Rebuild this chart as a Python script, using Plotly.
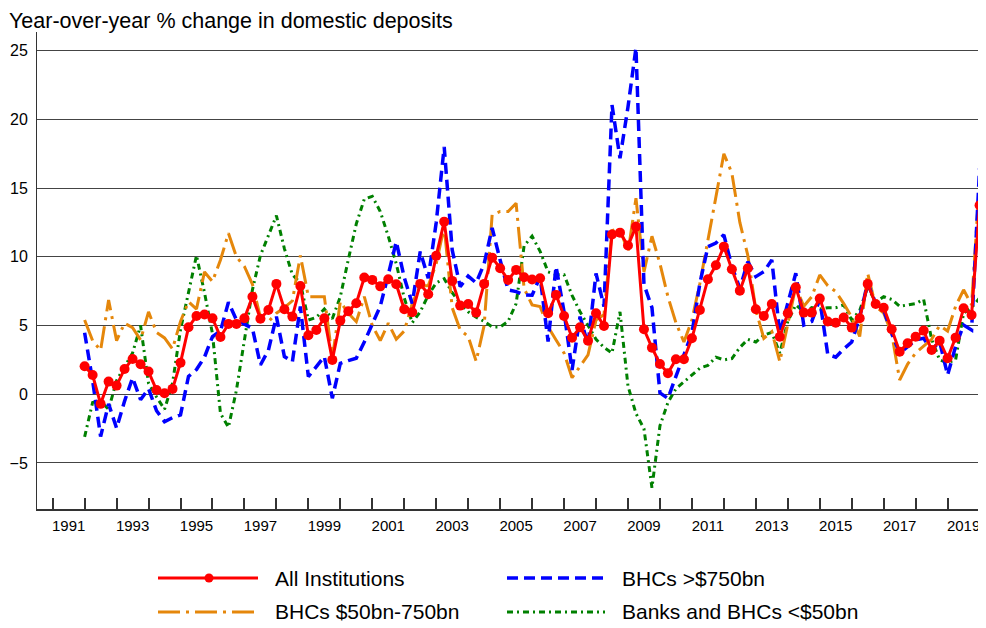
import plotly.graph_objects as go

# ---------------- data ----------------
start_year, start_q = 1991, 4          # first observation: 1991Q4
n_obs = 113
quarters = []
y, q = start_year, start_q
for _ in range(n_obs):
    quarters.append(f"{y}Q{q}")
    q += 1
    if q > 4:
        q = 1
        y += 1

all_institutions = [
    2.04, 1.4, -0.7, 0.92, 0.63, 1.84, 2.57, 2.18, 1.65, 0.31, 0.07, 0.39, 2.3, 4.87, 5.7, 5.8, 5.53, 4.17, 5.12,
    5.12, 5.53, 7.1, 5.5, 6.13, 8.03, 6.18, 5.65, 7.88, 4.29, 4.68, 5.53, 2.5, 5.36, 6.04, 6.62, 8.49, 8.32, 7.85,
    8.37, 8.0, 6.18, 5.97, 8.03, 7.28, 10.07, 12.56, 8.25, 6.45, 6.57, 5.94, 8.03, 9.94, 9.17, 8.32, 9.05, 8.52, 8.35,
    8.44, 5.9, 7.23, 5.7, 4.12, 4.87, 3.9, 5.9, 4.97, 11.62, 11.76, 10.82, 12.2, 4.73, 3.39, 2.2, 1.53, 2.55, 2.55,
    4.07, 6.13, 8.37, 9.39, 10.74, 9.1, 7.54, 9.17, 6.18, 5.7, 6.57, 4.19, 5.9, 7.79, 5.94, 5.94, 6.96, 5.3,
    5.21, 5.58, 4.85, 5.53, 8.03, 6.57, 6.3, 4.73, 3.1, 3.71, 4.19, 4.63, 3.22, 3.9, 2.62, 4.12, 6.26, 5.77, 13.75,
]
bhc_over_750 = [
    4.48, 1.0, -3.08, -0.7, -2.47, -0.5, 1.2, -0.4, 0.4, -1.2, -2.0, -1.7, -1.5, 1.3, 1.8, 2.7, 4.2, 4.6, 6.7,
    5.4, 5.1, 4.8, 2.13, 3.2, 5.65, 2.74, 2.37, 6.38, 1.28, 2.0, 2.74, -0.29, 2.25, 2.45, 2.62, 3.8, 5.1, 6.4,
    8.7, 11.1, 8.5, 6.6, 10.38, 8.44, 12.5, 18.0, 10.5, 7.83, 8.6, 8.1, 9.5, 12.1, 9.77, 7.59, 7.47, 7.23, 7.2,
    8.56, 3.83, 9.3, 6.0, 1.77, 5.65, 3.59, 8.8, 6.38, 21.05, 17.17, 20.9, 25.2, 8.0, 6.3, 0.1, -0.3, 1.3, 2.8,
    4.44, 8.08, 10.74, 11.0, 11.6, 9.3, 7.71, 9.65, 8.56, 8.92, 9.77, 4.44, 6.74, 8.8, 5.04, 5.3, 6.9, 2.9,
    2.7, 3.3, 3.8, 5.65, 8.08, 6.62, 6.13, 4.44, 2.98, 3.47, 3.95, 4.07, 3.22, 3.83, 1.4, 3.47, 5.04, 4.68, 16.45,
]
bhc_50_750 = [
    5.4, 3.9, 3.2, 6.86, 3.9, 5.17, 4.85, 3.95, 6.0, 4.5, 4.1, 3.3, 5.3, 6.74, 6.2, 8.9, 8.2, 9.77, 11.72,
    10.0, 9.3, 8.0, 5.6, 5.28, 5.9, 6.3, 6.8, 10.1, 7.1, 7.1, 7.1, 2.6, 6.74, 5.9, 5.28, 7.1, 5.0, 3.9,
    5.17, 4.0, 4.6, 6.6, 7.9, 7.9, 9.5, 12.2, 6.3, 4.68, 4.2, 2.4, 5.0, 13.05, 13.3, 13.29, 13.9, 7.7, 6.5,
    6.38, 4.9, 3.95, 3.0, 1.2, 2.0, 2.86, 5.4, 5.8, 11.9, 12.1, 10.3, 14.26, 8.9, 11.5, 9.5, 7.1, 5.2, 3.8,
    5.4, 8.08, 11.2, 14.5, 17.5, 16.1, 12.5, 10.1, 6.13, 4.07, 4.56, 2.37, 5.2, 7.83, 6.4, 7.1, 8.68, 7.9,
    7.47, 6.6, 5.6, 4.2, 8.8, 6.38, 5.9, 4.44, 1.04, 2.2, 3.0, 3.5, 4.0, 5.0, 4.6, 6.4, 7.6, 6.5, 15.5,
]
banks_under_50 = [
    -3.1, -0.6, -0.5, -1.1, 1.0, 2.0, 3.0, 5.0, 0.8, -0.2, -1.1, 0.8, 4.7, 7.4, 10.1, 7.4, 4.4, -1.4, -2.4,
    0.3, 3.8, 7.6, 10.1, 11.6, 13.0, 10.6, 8.7, 8.1, 5.4, 5.6, 6.2, 5.5, 7.1, 9.8, 12.4, 14.2, 14.4, 13.3,
    11.5, 9.5, 7.0, 5.2, 6.0, 7.2, 8.1, 8.4, 7.4, 6.6, 6.0, 5.6, 5.3, 4.9, 4.9, 5.3, 6.6, 10.8, 11.5,
    10.4, 8.9, 8.7, 8.7, 7.2, 6.0, 5.0, 4.0, 3.4, 3.0, 6.0, 0.6, -1.4, -2.5, -6.8, -2.3, -0.6, 0.4, 0.9,
    1.4, 1.9, 2.1, 2.7, 2.5, 2.6, 3.4, 4.0, 3.8, 4.3, 4.5, 3.0, 5.3, 6.5, 6.0, 6.3, 6.2, 6.3,
    6.3, 6.5, 5.4, 6.1, 7.8, 6.7, 7.1, 6.9, 6.4, 6.5, 6.6, 6.9, 4.0, 2.5, 2.3, 2.5, 5.9, 6.3, 7.0,
]

year_ticks = list(range(1991, 2021))            # year boundaries (tick marks)
year_labels = [str(yr) for yr in range(1991, 2020, 2)]
y_ticks = [-5, 0, 5, 10, 15, 20, 25]

series_names = ["All Institutions", "BHCs >$750bn", "BHCs $50bn-750bn", "Banks and BHCs <$50bn"]

# ---------------- helpers ----------------
def quarter_pos(label):
    yr, qq = label.split("Q")
    return int(yr) + int(qq) * 0.25      # end-of-quarter position

x = [quarter_pos(s) for s in quarters]

RED, BLUE, ORANGE, GREEN = "#FF0000", "#0000FF", "#E5870B", "#008000"
FONT = "Liberation Sans, Arial, sans-serif"

# The page adds an 8px body margin, so the figure is laid out 8px smaller / shifted.
OFF = 8
W, H = 986 - OFF, 628 - OFF
L, R, T, B = 37 - OFF, 1, 32 - OFF, 119
PW, PH = W - L - R, H - T - B

DASH_BLUE = "11px,6px"
DASH_ORANGE = "22px,6px,3px,6px"
DASH_GREEN = "6px,4px,2px,4px"

fig = go.Figure()
fig.add_trace(go.Scatter(x=x, y=banks_under_50, mode="lines", name=series_names[3],
                         line=dict(color=GREEN, width=3, dash=DASH_GREEN), showlegend=False))
fig.add_trace(go.Scatter(x=x, y=bhc_50_750, mode="lines", name=series_names[2],
                         line=dict(color=ORANGE, width=3, dash=DASH_ORANGE), showlegend=False))
fig.add_trace(go.Scatter(x=x, y=bhc_over_750, mode="lines", name=series_names[1],
                         line=dict(color=BLUE, width=3.5, dash=DASH_BLUE), showlegend=False))
fig.add_trace(go.Scatter(x=x, y=all_institutions, mode="lines+markers", name=series_names[0],
                         line=dict(color=RED, width=3), marker=dict(color=RED, size=10), showlegend=False))

# ---- custom legend (page pixel positions converted to paper coords) ----
def px_x(px):
    return (px - OFF - L) / PW

def px_y(py):
    return (H - B - (py - OFF)) / PH

legend_items = [
    (series_names[0], RED, "solid", 3, 158, 258, 578, True),
    (series_names[1], BLUE, DASH_BLUE, 3.5, 507, 605, 578, False),
    (series_names[2], ORANGE, DASH_ORANGE, 3, 158, 258, 612, False),
    (series_names[3], GREEN, DASH_GREEN, 3, 507, 605, 612, False),
]
shapes = []
annotations = []
for name, col, dash, wd, x0, x1, yy, mk in legend_items:
    shapes.append(dict(type="line", xref="paper", yref="paper",
                       x0=px_x(x0), x1=px_x(x1), y0=px_y(yy), y1=px_y(yy),
                       line=dict(color=col, width=wd, dash=dash)))
    if mk:
        cx = 209
        shapes.append(dict(type="circle", xref="paper", yref="paper",
                           x0=px_x(cx - 4.5), x1=px_x(cx + 4.5), y0=px_y(yy + 4.5), y1=px_y(yy - 4.5),
                           fillcolor=col, line=dict(color=col, width=0)))
    annotations.append(dict(text=name, xref="paper", yref="paper", x=px_x(x1 + 16), y=px_y(yy),
                            xanchor="left", yanchor="middle", showarrow=False, borderpad=0,
                            font=dict(family=FONT, size=21, color="#000000")))

annotations.append(dict(text="Year-over-year % change in domestic deposits", xref="paper", yref="paper",
                        x=px_x(OFF), y=px_y(OFF), xanchor="left", yanchor="top", showarrow=False,
                        borderpad=0, font=dict(family=FONT, size=21.5, color="#000000")))

fig.update_layout(
    width=W, height=H,
    margin=dict(l=L, r=R, t=T, b=B, autoexpand=False),
    paper_bgcolor="white", plot_bgcolor="white",
    font=dict(family=FONT, size=15, color="#000000"),
    shapes=shapes, annotations=annotations,
    xaxis=dict(range=[1990.51, 2020.17], tickmode="array", automargin=False,
               tickvals=[int(s) + 0.5 for s in year_labels], ticktext=year_labels,
               ticks="", showgrid=False, zeroline=False,
               showline=True, linecolor="#333333", linewidth=2,
               ticklabelstandoff=2, tickfont=dict(size=15),
               minor=dict(tickmode="array", tickvals=year_ticks, ticks="inside", ticklen=11,
                          tickcolor="#333333", tickwidth=1.5, showgrid=False)),
    yaxis=dict(range=[-8.35, 26.36], tickmode="array", tickvals=y_ticks, automargin=False,
               ticks="", showgrid=True, gridcolor="#444444", gridwidth=1.2,
               zeroline=False, showline=True, linecolor="#333333", linewidth=1,
               ticklabelstandoff=5, tickfont=dict(size=16)),
)

fig.write_html("out.html")
